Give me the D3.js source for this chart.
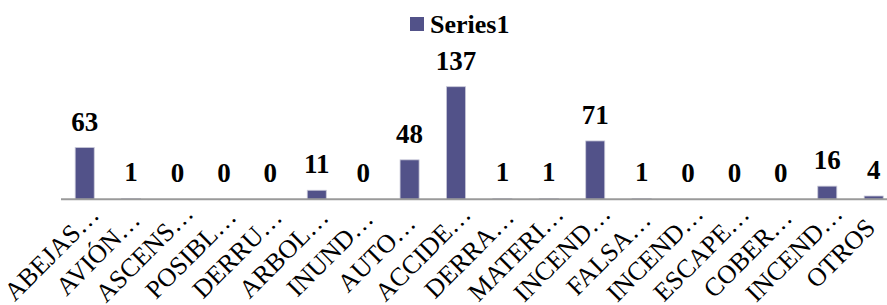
<!DOCTYPE html>
<html>
<head>
<meta charset="utf-8">
<script src="https://cdn.jsdelivr.net/npm/d3@7"></script>
<style>
  body { margin: 0; background: #fff; }
</style>
</head>
<body>
<div id="wrapper"></div>
<script>
// data
const categories = ["ABEJAS…", "AVIÓN…", "ASCENS…", "POSIBL…", "DERRU…", "ARBOL…", "INUND…", "AUTO…", "ACCIDE…",
    "DERRA…", "MATERI…", "INCEND…", "FALSA…", "INCEND…", "ESCAPE…", "COBER…", "INCEND…", "OTROS"]
const values = [63, 1, 0, 0, 0, 11, 0, 48, 137, 1, 1, 71, 1, 0, 0, 0, 16, 4]
const seriesName = "Series1"

const data = categories.map((c, i) => ({ idx: i, cat: c, value: values[i] }))

const dimensions = {
    width: 887,
    height: 305,
    baseline: 199.3
}

const barColor = "#525289"
const font = "Liberation Serif"

const svg = d3.select("#wrapper")
    .append("svg")
    .attr("width", dimensions.width)
    .attr("height", dimensions.height)
    .style("display", "block")

const xScale = d3.scaleBand()
    .domain(data.map(d => d.idx))
    .range([61.5, 896.9])
    .paddingInner(0.59)
    .paddingOuter(0.295)

const yScale = d3.scaleLinear()
    .domain([0, 160])
    .range([dimensions.baseline, dimensions.baseline - 131.5])

// bars
svg.append("g")
    .selectAll("rect")
    .data(data)
    .join("rect")
    .attr("x", d => xScale(d.idx))
    .attr("y", d => yScale(d.value))
    .attr("width", xScale.bandwidth())
    .attr("height", d => yScale(0) - yScale(d.value))
    .attr("fill", barColor)
    .attr("stroke", "#c8c8d8")
    .attr("stroke-width", 0.8)

// category axis, labels centred on a point down-left of each tick
const xAxis = d3.axisBottom(xScale).tickSize(0).tickFormat(i => categories[i])
const axisG = svg.append("g")
    .attr("transform", `translate(0, ${dimensions.baseline})`)
    .call(xAxis)
axisG.attr("font-family", font).attr("font-size", null)
axisG.select(".domain")
    .attr("d", `M61,0H${dimensions.width}`)
    .attr("stroke", "#9a9a9a")
    .attr("stroke-width", 2)
axisG.selectAll(".tick text")
    .attr("font-family", font)
    .attr("font-size", 26)
    .attr("fill", "#000")
    .attr("text-anchor", "middle")
    .attr("dy", 0)
    .attr("y", 0)
    .attr("transform", "translate(-27, 60) rotate(-45)")

// data labels
svg.append("g")
    .selectAll("text")
    .data(data)
    .join("text")
    .attr("x", d => xScale(d.idx) + xScale.bandwidth() / 2)
    .attr("y", d => yScale(d.value) - 17)
    .attr("text-anchor", "middle")
    .attr("font-family", font)
    .attr("font-weight", "bold")
    .attr("font-size", 27)
    .attr("fill", "#000")
    .text(d => d.value)

// legend
const legend = svg.append("g").attr("transform", "translate(410, 17)")
legend.append("rect")
    .attr("width", 14)
    .attr("height", 14)
    .attr("fill", barColor)
legend.append("text")
    .attr("x", 20)
    .attr("y", 16)
    .attr("font-family", font)
    .attr("font-weight", "bold")
    .attr("font-size", 26)
    .attr("fill", "#000")
    .text(seriesName)
</script>
</body>
</html>
